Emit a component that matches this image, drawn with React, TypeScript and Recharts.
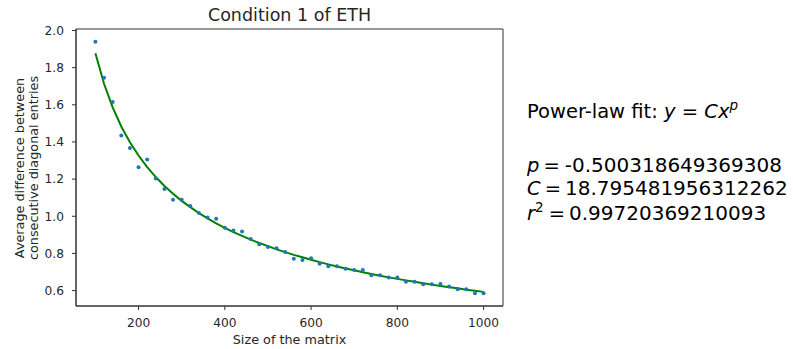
import React from "react";
import {
  ComposedChart,
  Scatter,
  Line,
  XAxis,
  YAxis,
  ReferenceArea,
  Customized,
} from "recharts";

// Matrix sizes (x values)
const matrixSizes = [
  100, 120, 140, 160, 180, 200, 220, 240, 260, 280, 300, 320, 340, 360, 380,
  400, 420, 440, 460, 480, 500, 520, 540, 560, 580, 600, 620, 640, 660, 680,
  700, 720, 740, 760, 780, 800, 820, 840, 860, 880, 900, 920, 940, 960, 980,
  1000,
];

// Measured average difference between consecutive diagonal entries (blue dots)
const measuredValues = [
  1.939, 1.746, 1.615, 1.435, 1.368, 1.264, 1.305, 1.203, 1.147, 1.089, 1.089,
  1.055, 1.017, 0.994, 0.987, 0.938, 0.924, 0.918, 0.877, 0.85, 0.835, 0.828,
  0.807, 0.772, 0.765, 0.774, 0.745, 0.731, 0.731, 0.718, 0.711, 0.711, 0.682,
  0.682, 0.67, 0.67, 0.648, 0.648, 0.634, 0.634, 0.636, 0.622, 0.607, 0.607,
  0.585, 0.585,
];

// Power-law fit curve values
const fitValues = [
  1.877, 1.713, 1.586, 1.483, 1.398, 1.327, 1.265, 1.211, 1.163, 1.121, 1.083,
  1.049, 1.017, 0.989, 0.962, 0.938, 0.915, 0.894, 0.874, 0.856, 0.839, 0.822,
  0.807, 0.792, 0.779, 0.766, 0.753, 0.741, 0.73, 0.719, 0.709, 0.699, 0.689,
  0.68, 0.671, 0.663, 0.655, 0.647, 0.639, 0.632, 0.625, 0.618, 0.612, 0.605,
  0.599, 0.593,
];

const xTicks = [200, 400, 600, 800, 1000];
const yTicks = [0.6, 0.8, 1.0, 1.2, 1.4, 1.6, 1.8, 2.0];

const titleText = "Condition 1 of ETH";
const xLabelText = "Size of the matrix";
const yLabelLines = ["Average difference between", "consecutive diagonal entries"];
const pText = "-0.500318649369308";
const cText = "18.795481956312262";
const r2Text = "0.99720369210093";

const rows = matrixSizes.map((x, i) => ({
  x,
  y: measuredValues[i],
  fit: fitValues[i],
}));

const FONT = "'DejaVu Sans', sans-serif";
const TXT = "#262626";
const TICK = 12.2;
const LABEL = 12.8;
const NUM = 20;

const Dot = (props: any) => {
  const { cx, cy } = props;
  if (cx == null || cy == null) return null;
  return <circle cx={cx} cy={cy} r={2} fill="#1f77b4" />;
};

const Annotations = () => (
  <g fontFamily={FONT} fill={TXT}>
    <text x={289.5} y={20.7} textAnchor="middle" fontSize={17.5}>
      {titleText}
    </text>
    <text x={289.5} y={344} textAnchor="middle" fontSize={LABEL}>
      {xLabelText}
    </text>
    <text
      x={23.5}
      y={168}
      textAnchor="middle"
      fontSize={LABEL}
      transform="rotate(-90 23.5 168)"
    >
      {yLabelLines[0]}
    </text>
    <text
      x={38}
      y={168}
      textAnchor="middle"
      fontSize={LABEL}
      transform="rotate(-90 38 168)"
    >
      {yLabelLines[1]}
    </text>
    <g fontSize={19.5} fill="#000">
      <text x={527} y={118.3}>
        Power-law fit:{" "}
        <tspan fontStyle="italic">y</tspan>
        {" = "}
        <tspan fontStyle="italic">Cx</tspan>
        <tspan fontStyle="italic" fontSize={13.5} dy={-8}>
          p
        </tspan>
      </text>
      <text x={527} y={171.7}>
        <tspan fontStyle="italic">p</tspan>
        <tspan dx={4}>=</tspan>
        <tspan dx={5} fontSize={NUM}>{pText}</tspan>
      </text>
      <text x={527} y={194.5}>
        <tspan fontStyle="italic">C</tspan>
        <tspan dx={4}>=</tspan>
        <tspan dx={4} fontSize={NUM}>{cText}</tspan>
      </text>
      <text x={527} y={220}>
        <tspan fontStyle="italic">r</tspan>
        <tspan fontSize={13.5} dy={-8}>
          2
        </tspan>
        <tspan dy={8} dx={5}>=</tspan>
        <tspan dx={4} fontSize={NUM}>{r2Text}</tspan>
      </text>
    </g>
  </g>
);

export default function App() {
  return (
    <div style={{ position: "absolute", left: 0, top: 0, width: 793, height: 349 }}>
      <ComposedChart
        width={793}
        height={349}
        data={rows}
        margin={{ top: 29, right: 290, left: 0, bottom: 0 }}
      >
        <XAxis
          dataKey="x"
          type="number"
          domain={[55, 1045]}
          ticks={xTicks}
          allowDataOverflow
          height={43}
          tickSize={4}
          tickMargin={8}
          tick={{ fill: TXT, fontSize: TICK, fontFamily: FONT }}
          tickLine={{ stroke: "#333" }}
          axisLine={{ stroke: "#333" }}
        />
        <YAxis
          type="number"
          domain={[0.517, 2.008]}
          ticks={yTicks}
          allowDataOverflow
          width={76}
          tickSize={4}
          tickMargin={8}
          tickFormatter={(v: number) => v.toFixed(1)}
          tick={{ fill: TXT, fontSize: TICK, fontFamily: FONT }}
          tickLine={{ stroke: "#333" }}
          axisLine={{ stroke: "#333" }}
        />
        <ReferenceArea
          x1={55}
          x2={1045}
          y1={0.517}
          y2={2.008}
          fill="none"
          fillOpacity={0}
          stroke="#333"
          strokeWidth={1}
          ifOverflow="visible"
        />
        <Scatter
          dataKey="y"
          fill="#1f77b4"
          shape={<Dot />}
          isAnimationActive={false}
        />
        <Line
          dataKey="fit"
          type="linear"
          stroke="#008000"
          strokeWidth={2}
          dot={false}
          activeDot={false}
          isAnimationActive={false}
        />
        <Customized component={Annotations} />
      </ComposedChart>
    </div>
  );
}
